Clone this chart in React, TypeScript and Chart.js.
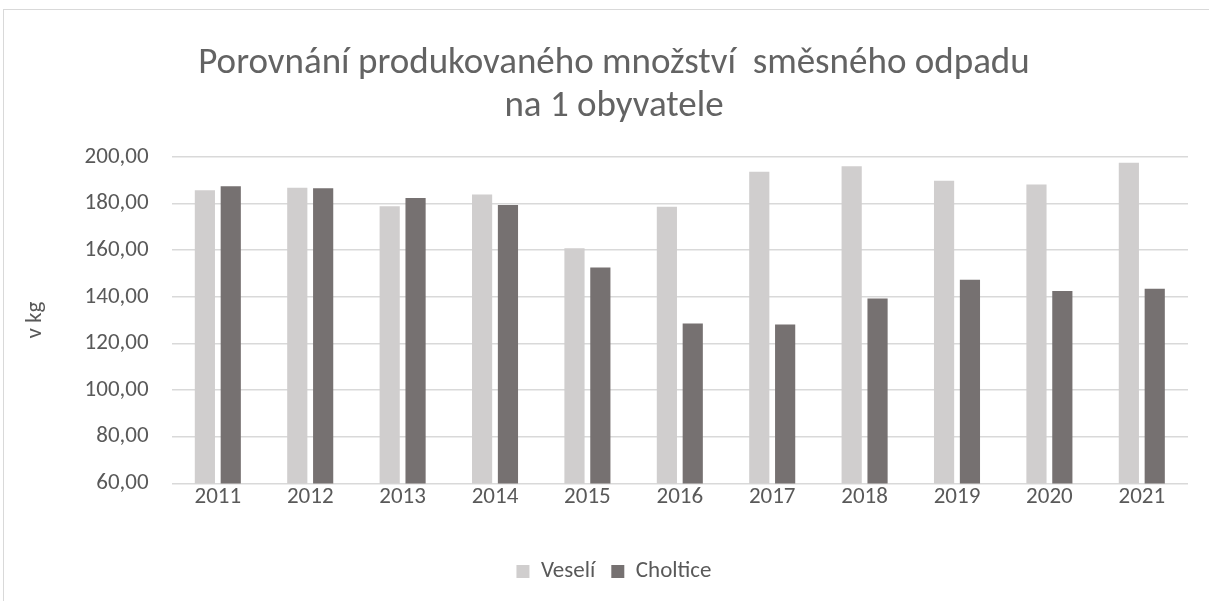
import React, { useEffect, useRef } from "react";
import { Chart, registerables } from "chart.js";

Chart.register(...registerables);

const years = ["2011", "2012", "2013", "2014", "2015", "2016", "2017", "2018", "2019", "2020", "2021"];
const veseli = [185.7, 186.8, 178.8, 183.9, 160.8, 178.6, 193.6, 196.0, 189.8, 188.1, 197.5];
const choltice = [187.4, 186.5, 182.4, 179.3, 152.6, 128.5, 128.1, 139.3, 147.3, 142.5, 143.4];
const titleLines = ["Porovnání produkovaného množství  směsného odpadu", "na 1 obyvatele"];
const FONT = "Carlito, 'Liberation Sans Narrow', 'Open Sans', sans-serif";
const TEXT = "#595959";

export default function App() {
  const ref = useRef<HTMLCanvasElement | null>(null);
  useEffect(() => {
    document.body.style.margin = "0";
    document.body.style.overflow = "hidden";
    const chart = new Chart(ref.current!, {
      type: "bar",
      data: {
        labels: years,
        datasets: [
          { label: "Veselí", data: veseli, backgroundColor: "#d0cece", categoryPercentage: 0.56, barPercentage: 0.78 },
          { label: "Choltice", data: choltice, backgroundColor: "#767171", categoryPercentage: 0.56, barPercentage: 0.78 },
        ],
      },
      options: {
        animation: false,
        responsive: true,
        maintainAspectRatio: false,
        layout: { padding: { left: 40, right: 40, top: 0, bottom: 8 } },
        plugins: {
          title: {
            display: true,
            text: titleLines,
            color: "#636363",
            font: { family: FONT, size: 37, weight: "normal", lineHeight: 1.16 },
            padding: { top: 42, bottom: 29 },
          },
          legend: {
            position: "bottom",
            title: { display: true, text: " ", font: { size: 10, lineHeight: 1 }, padding: { top: 23, bottom: 0 } },
            labels: {
              color: TEXT,
              font: { family: FONT, size: 23 },
              boxWidth: 13,
              boxHeight: 13,
              padding: 16,
            },
          },
          tooltip: { enabled: false },
        },
        scales: {
          x: {
            grid: { display: false, drawTicks: false },
            border: { display: false },
            ticks: { color: TEXT, font: { family: FONT, size: 23 }, padding: 0 },
          },
          y: {
            min: 60,
            max: 200,
            grid: { color: "#d9d9d9", lineWidth: 1.5, drawTicks: false },
            border: { display: false },
            ticks: {
              stepSize: 20,
              color: TEXT,
              font: { family: FONT, size: 23 },
              padding: 23,
              callback: (v: any) => Number(v).toFixed(2).replace(".", ","),
            },
            title: {
              display: true,
              text: "v kg",
              color: TEXT,
              font: { family: FONT, size: 23 },
              padding: { top: -19, bottom: 13 },
            },
          },
        },
      },
    });
    return () => chart.destroy();
  }, []);
  return (
    <div style={{ position: "relative", width: 1209, height: 601, overflow: "hidden" }}>
      <div style={{ position: "absolute", left: 3, top: 9, width: 1300, height: 700, border: "1px solid #d9d9d9" }} />
      <div style={{ position: "absolute", left: 0, top: 0, width: 1228, height: 601 }}>
        <canvas ref={ref} />
      </div>
    </div>
  );
}
